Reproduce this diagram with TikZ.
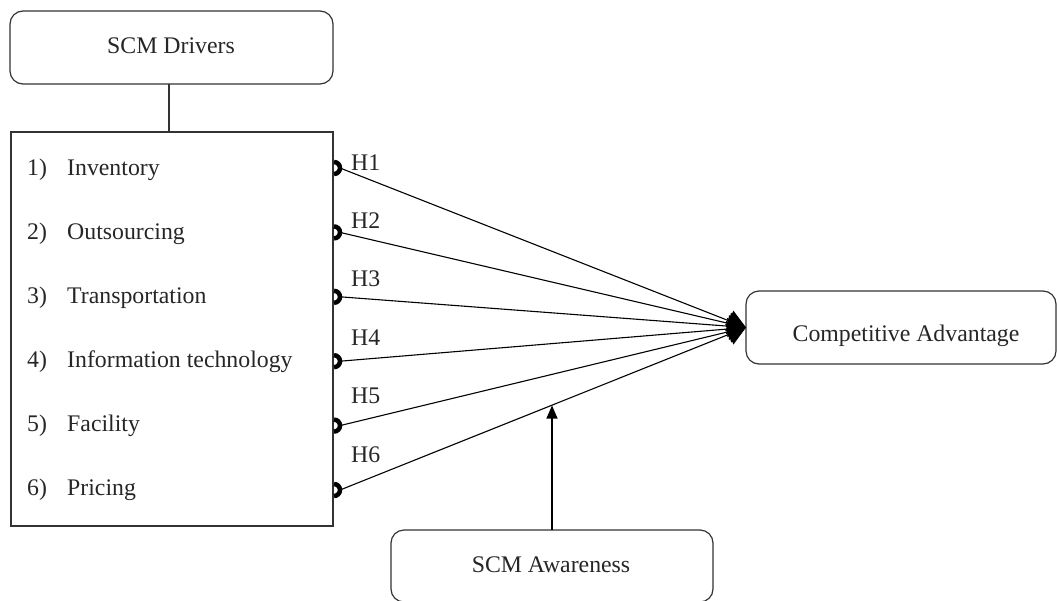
\documentclass[tikz,border=0pt]{standalone}
\usepackage{fontspec}
\setmainfont{Liberation Serif}
\usetikzlibrary{arrows.meta,calc}
\begin{document}
\begin{tikzpicture}[x=1pt,y=-1pt,
  font=\fontsize{23.8}{28}\selectfont,
  frame/.style={draw=black!80, line width=1.2pt, rounded corners=13pt, inner sep=0pt, outer sep=0pt},
  plainframe/.style={draw=black!80, line width=1.2pt, inner sep=0pt, outer sep=0pt},
  lbl/.style={anchor=base, inner sep=0pt},
  item/.style={anchor=base west, inner sep=0pt, text=black!85},
  link/.style={line width=1.1pt, -{Triangle[length=18pt,width=22pt]}},
  bump/.style={line width=4.5pt},
  modarrow/.style={line width=1.1pt, -{Triangle[length=13pt,width=11pt]}}]
\useasboundingbox (0,0) rectangle (1057,600);

% boxes
\node[frame, minimum width=323pt, minimum height=73pt] (drv) at (171.5,47.5) {};
\node[plainframe, minimum width=322pt, minimum height=394pt] (list) at (172,329) {};
\node[frame, minimum width=310pt, minimum height=73pt] (ca) at (901,327.5) {};
\node[frame, minimum width=322pt, minimum height=72pt] (aw) at (552,566) {};

% box texts
\node[lbl, text=black!85] (drvt) at (171,53) {SCM Drivers};
\node[lbl, text=black!85] (cat) at (906,341) {Competitive Advantage};
\node[lbl, text=black!85] (awt) at (551,572) {SCM Awareness};

% connector between driver box and list
\coordinate (drvfoot) at (169,84);
\coordinate (listtop) at (169,132);
\draw[draw=black!80, line width=1.2pt] (drvfoot) -- (listtop);

% list items
\foreach \i/\t [count=\k from 0] in {1/Inventory,2/Outsourcing,3/Transportation,4/Information technology,5/Facility,6/Pricing}{
  \node[item] (n\i) at (27,175+64*\k) {\i)};
  \node[item] (t\i) at (67,175+64*\k) {\t};
}

% hypothesis connectors
\foreach \i [count=\k from 0] in {1,...,6}{
  \coordinate (m\i) at (334,168+64.4*\k);
  \coordinate (s\i) at (340,168+64.4*\k);
  \draw[bump] ($(m\i)+(0,-6)$) arc[start angle=90, end angle=-90, radius=6pt];
  \draw[link] (s\i) -- (ca.west);
  \node[item] (h\i) at (351,170+58.4*\k) {H\i};
}

% moderating arrow
\coordinate (mod) at (552,405.5);
\draw[modarrow] (aw.north) -- (mod);
\end{tikzpicture}
\end{document}
